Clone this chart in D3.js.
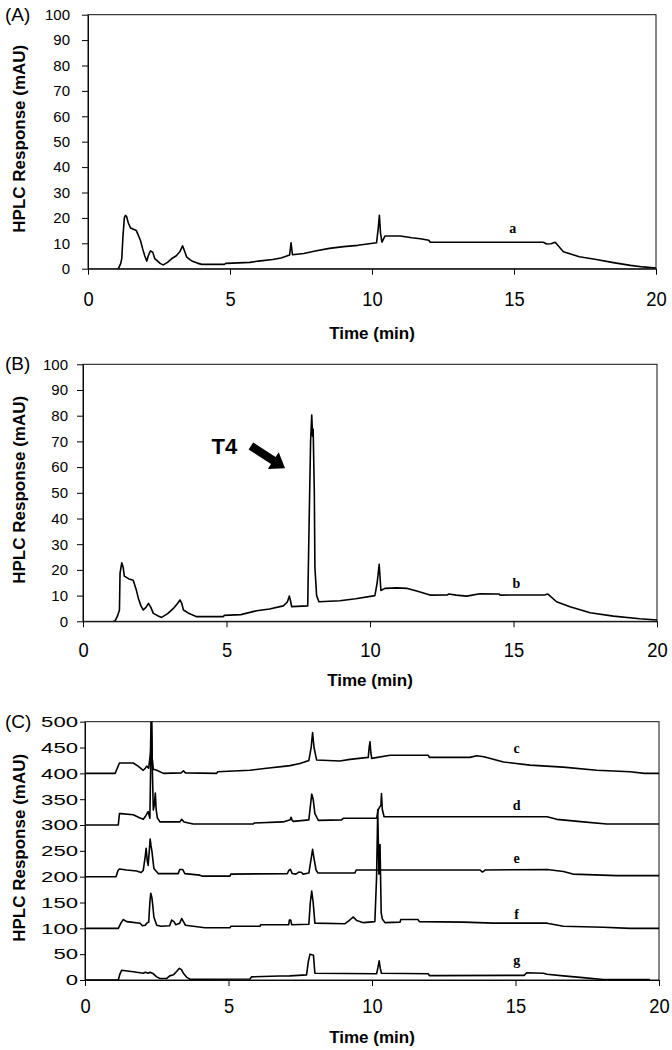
<!DOCTYPE html>
<html>
<head>
<meta charset="utf-8">
<script src="https://cdn.jsdelivr.net/npm/d3@7"></script>
<style>
  body { margin: 0; background: #fff; }
  svg { display: block; font-family: "Liberation Sans", Arial, sans-serif; }
</style>
</head>
<body>
<svg id="chart" width="672" height="1050"></svg>
<script>
// ---- data (time in min, response in mAU) ----
const xTicks = [0, 5, 10, 15, 20];
const yTicksAB = [0, 10, 20, 30, 40, 50, 60, 70, 80, 90, 100];
const yTicksC = [0, 50, 100, 150, 200, 250, 300, 350, 400, 450, 500];

const traceA = [[1.0,0],[1.07,0],[1.15,2],[1.19,4],[1.23,12.6],[1.28,20],[1.32,21],[1.36,20.5],[1.42,18],[1.5,16],
  [1.6,15.5],[1.7,15],[1.78,13],[1.85,11],[1.92,8],[2.0,5],[2.07,3],[2.12,5],[2.2,7],[2.28,6.5],[2.35,4],[2.45,3],
  [2.55,2],[2.65,1.5],[2.8,2.5],[2.95,4],[3.1,5],[3.24,6.8],[3.33,9],[3.4,7],[3.47,4.7],[3.6,3.5],[3.7,2.8],[3.85,2.2],
  [4.0,1.7],[4.8,1.7],[4.85,2.1],[5.3,2.3],[5.7,2.5],[6.0,3],[6.5,3.6],[6.8,4.2],[7.1,5.4],[7.15,10.2],[7.2,5.5],
  [7.6,6],[8.0,7],[8.5,8],[9.0,8.7],[9.5,9.2],[10.16,10.2],[10.22,16],[10.26,21],[10.3,14],[10.35,10.5],[10.46,12.9],
  [11.0,12.9],[11.4,12.2],[11.7,11.8],[12.0,11.2],[12.05,10.4],[16.03,10.4],[16.15,9.7],[16.3,9.8],[16.45,10.4],
  [16.74,6.7],[17.3,4.7],[17.9,3.6],[18.5,2.4],[19.1,1.3],[19.55,0.7],[20,0.3]];

const traceB = [[1.05,0],[1.11,0],[1.2,2],[1.27,4.4],[1.29,18.6],[1.35,22.8],[1.4,21],[1.44,17.6],[1.6,16.5],[1.75,16],
  [1.85,12.5],[1.93,8.9],[2.02,6],[2.1,4.4],[2.2,5.5],[2.28,7],[2.36,5.5],[2.45,3.1],[2.6,2.2],[2.74,1.5],[2.95,3],
  [3.15,5],[3.3,7],[3.38,8.3],[3.44,7],[3.5,4.4],[3.7,3],[3.96,1.8],[4.89,1.8],[4.92,2.3],[5.5,2.6],[6.05,4.1],
  [6.5,4.8],[6.98,6],[7.12,7.5],[7.19,9.8],[7.23,8],[7.27,5.7],[7.83,6],[7.87,33],[7.93,70],[7.97,80.3],[8.0,72],
  [8.02,74.7],[8.06,50],[8.08,21],[8.14,10],[8.22,7.6],[8.95,8],[9.5,8.8],[10.17,10],[10.25,15],[10.32,22.2],
  [10.38,12],[10.52,12.8],[10.93,13],[11.3,12.8],[11.63,11.8],[12.09,10.2],[12.7,10.3],[12.75,10.6],[13.0,10.2],
  [13.37,9.8],[13.83,10.7],[14.5,10.6],[14.53,10.2],[16.1,10.3],[16.2,10.6],[16.5,7.6],[16.97,5.7],[17.67,3.3],
  [18.48,2],[19.4,1],[20,0.5]];

// panel C, traces already carry their vertical offsets (400, 300, 200, 100, 0)
const traceC = [[0,400],[1.05,400],[1.2,420],[1.68,420],[1.85,414],[2.03,406],[2.1,410],[2.15,414],[2.22,410],
  [2.28,440],[2.31,520],[2.34,430],[2.38,408],[2.5,406],[2.73,400],[3.35,401],[3.43,405],[3.5,401],[4.59,400],
  [4.62,403],[5.75,406],[6.33,410],[7.0,414],[7.14,415],[7.49,419],[7.8,425],[7.88,450],[7.93,479],[7.98,450],
  [8.07,426],[8.88,424],[9.23,427],[9.87,431],[9.9,450],[9.93,461],[9.96,440],[9.99,429],[10.63,435],[11.96,435],
  [12.0,431],[13.41,431],[13.65,434],[13.9,432],[14.58,422],[15.5,416],[16.66,412],[17.83,406],[18.99,403],
  [19.5,400],[20,400]];

const traceD = [[0,300],[1.16,300],[1.2,322],[1.25,322],[1.68,320],[1.9,314],[2.03,311],[2.12,318],[2.2,326],
  [2.26,313],[2.29,420],[2.32,510],[2.35,400],[2.38,329],[2.42,340],[2.45,362],[2.48,330],[2.52,314],[2.61,306],
  [3.3,306],[3.37,311],[3.45,306],[3.77,302],[5.86,302],[5.9,304],[6.9,306],[7.15,310],[7.18,315],[7.22,309],
  [7.26,307],[7.8,310],[7.86,340],[7.9,360],[7.95,350],[8.01,322],[8.13,309],[8.94,310],[9.0,313],[10.16,313],
  [10.22,330],[10.28,336],[10.31,338],[10.33,361],[10.36,330],[10.42,316],[10.86,316],[16.1,316],[16.44,311],
  [17.36,306],[18.18,302],[20,302]];

const traceE = [[0,200],[1.08,200],[1.15,212],[1.2,215],[1.45,213],[1.8,211],[1.95,208],[2.03,212],[2.1,240],
  [2.13,255],[2.17,230],[2.2,222],[2.24,250],[2.27,273],[2.3,260],[2.33,250],[2.4,216],[2.55,206],[3.25,206],
  [3.3,214],[3.4,214],[3.48,206],[4.0,203],[4.1,201],[5.05,201],[5.08,205],[7.05,206],[7.1,212],[7.16,214],
  [7.22,206],[7.35,205],[7.45,209],[7.55,208],[7.6,205],[7.8,207],[7.88,235],[7.93,253],[7.98,235],[8.05,213],
  [8.12,207],[9.4,207],[9.45,213],[13.76,213],[13.85,209],[13.95,213],[16.1,214],[16.67,210],[17.0,205],
  [18.52,202],[20,202]];

const traceF = [[0,100],[1.16,100],[1.25,110],[1.33,117],[1.45,113],[1.6,112],[1.92,110],[2.0,105],[2.1,106],
  [2.15,110],[2.22,112],[2.26,150],[2.29,168],[2.33,160],[2.36,145],[2.4,122],[2.5,106],[2.65,104],[2.95,105],
  [3.02,116],[3.1,113],[3.16,107],[3.3,110],[3.37,119],[3.44,112],[3.5,106],[4.18,101],[5.05,101],[5.08,104],
  [6.1,104],[6.12,107],[7.1,107],[7.12,116],[7.17,116],[7.2,107],[7.8,108],[7.85,150],[7.9,172],[7.95,150],
  [8.01,110],[9.06,109],[9.2,115],[9.35,122],[9.47,115],[9.7,111],[10.1,113],[10.16,200],[10.2,330],[10.24,205],
  [10.28,262],[10.32,130],[10.36,118],[10.45,111],[10.98,112],[11.0,117],[11.6,117],[11.65,113],[13.18,112],
  [14.23,110],[16.1,110],[16.67,104],[18.06,102],[18.99,100],[20,100]];

const traceG = [[0,0],[1.16,0],[1.22,12],[1.28,19],[1.4,18],[1.68,16],[2.03,13],[2.1,15],[2.2,13],[2.27,15],
  [2.38,12],[2.5,6],[2.61,3],[2.85,3],[2.95,8],[3.08,10],[3.2,17],[3.29,22.6],[3.36,20],[3.43,13],[3.55,5],
  [3.66,1.5],[5.75,2],[5.8,6],[6.79,7.7],[7.14,8],[7.72,10],[7.78,35],[7.84,50],[7.96,48],[8.01,13],[10.16,12],
  [10.21,25],[10.25,37],[10.29,22],[10.33,13],[11.96,12],[12.0,8.5],[15.3,9],[15.39,14],[15.97,13],[16.1,11],
  [16.67,8],[17.25,5],[18.06,1],[19.69,1]];

const tracesC = [traceC, traceD, traceE, traceF, traceG];
const namesC = ["c", "d", "e", "f", "g"];
const nameYC = [438.7, 329, 226, 119, 29];   // label baselines, mAU

const svg = d3.select("#chart");
svg.append("rect").attr("width", 672).attr("height", 1050).attr("fill", "#fff");

function drawPanel(p) {
  const x = d3.scaleLinear().domain([0, 20]).range([p.left, p.right]);
  const y = d3.scaleLinear().domain([0, p.ymax]).range([p.bottom, p.top]);
  const g = svg.append("g");

  g.append("clipPath").attr("id", "clip" + p.id)
    .append("rect")
    .attr("x", p.left).attr("y", p.top)
    .attr("width", p.right - p.left).attr("height", p.bottom - p.top);

  // y axis
  const ya = g.append("g")
    .attr("transform", `translate(${p.left},0)`)
    .call(d3.axisLeft(y).tickValues(p.yTicks).tickSize(p.ytick).tickSizeOuter(0).tickPadding(p.ypad));
  ya.selectAll("text")
    .attr("font-size", 15)
    .attr("font-family", "'Liberation Sans', Arial, sans-serif")
    .attr("fill", "#000");
  if (p.ystretch) {
    ya.selectAll("text")
      .attr("textLength", d => String(d).length * p.ystretch)
      .attr("lengthAdjust", "spacingAndGlyphs");
  }

  // x axis
  const xa = g.append("g")
    .attr("transform", `translate(0,${p.bottom})`)
    .call(d3.axisBottom(x).tickValues(xTicks).tickSize(6).tickSizeOuter(0));
  xa.selectAll("text")
    .attr("y", p.xlab)
    .attr("dy", "0.36em")
    .attr("font-size", 20)
    .attr("font-family", "'Liberation Sans', Arial, sans-serif")
    .attr("fill", "#000")
    .attr("textLength", d => String(d).length * 10.2)
    .attr("lengthAdjust", "spacingAndGlyphs");
  g.selectAll(".domain, .tick line").attr("stroke", "#000");

  // frame
  g.append("rect")
    .attr("x", p.left).attr("y", p.top)
    .attr("width", p.right - p.left).attr("height", p.bottom - p.top)
    .attr("fill", "none").attr("stroke", "#111").attr("stroke-width", 1);

  // titles
  g.append("text")
    .attr("x", (p.left + p.right) / 2)
    .attr("y", p.bottom + p.xtitle)
    .attr("text-anchor", "middle")
    .attr("font-size", 17).attr("font-weight", "bold")
    .text("Time (min)");

  g.append("text")
    .attr("transform", `translate(25,${(p.top + p.bottom) / 2 - 3}) rotate(-90)`)
    .attr("text-anchor", "middle")
    .attr("font-size", 17).attr("font-weight", "bold")
    .text("HPLC Response (mAU)");

  g.append("text")
    .attr("x", 5).attr("y", p.top + 6)
    .attr("font-size", 19)
    .text(`(${p.id})`);

  return { x, y, g };
}

const line = (x, y) => d3.line().x(d => x(d[0])).y(d => y(d[1]));

function drawTrace(panel, id, data) {
  panel.g.append("path")
    .datum(data)
    .attr("clip-path", `url(#clip${id})`)
    .attr("fill", "none")
    .attr("stroke", "#000")
    .attr("stroke-width", 1.6)
    .attr("stroke-linejoin", "round")
    .attr("d", line(panel.x, panel.y));
}

function seriesLabel(panel, t, v, txt) {
  panel.g.append("text")
    .attr("x", panel.x(t)).attr("y", panel.y(v))
    .attr("text-anchor", "middle")
    .attr("font-family", "'Liberation Serif', 'Times New Roman', serif")
    .attr("font-weight", "bold")
    .attr("font-size", 14)
    .text(txt);
}

// (A)
const pA = drawPanel({ id: "A", left: 88, right: 656, top: 14.7, bottom: 268.7, ymax: 100,
  yTicks: yTicksAB, ytick: 6, ypad: 12, xlab: 30, xtitle: 70 });
drawTrace(pA, "A", traceA);
seriesLabel(pA, 14.96, 13.9, "a");

// (B)
const pB = drawPanel({ id: "B", left: 83, right: 657, top: 364.3, bottom: 621.3, ymax: 100,
  yTicks: yTicksAB, ytick: 6, ypad: 9, xlab: 29, xtitle: 65 });
drawTrace(pB, "B", traceB);
seriesLabel(pB, 15.1, 13.1, "b");

// T4 annotation with arrow
const arrowTail = [5.85, 68.2], arrowTip = [7.04, 59.6];
{
  const x0 = pB.x(arrowTail[0]), y0 = pB.y(arrowTail[1]);
  const x1 = pB.x(arrowTip[0]), y1 = pB.y(arrowTip[1]);
  const L = Math.hypot(x1 - x0, y1 - y0);
  const ang = Math.atan2(y1 - y0, x1 - x0) * 180 / Math.PI;
  const hl = 14, hw = 10, sw = 4.2;
  pB.g.append("path")
    .attr("transform", `translate(${x0},${y0}) rotate(${ang})`)
    .attr("d", `M0,${-sw}L${L - hl},${-sw}L${L - hl},${-hw}L${L},0L${L - hl},${hw}L${L - hl},${sw}L0,${sw}Z`)
    .attr("fill", "#000");
  pB.g.append("text")
    .attr("x", pB.x(4.48)).attr("y", pB.y(65))
    .attr("font-size", 22).attr("font-weight", "bold")
    .text("T4");
}

// (C)
const pC = drawPanel({ id: "C", left: 85, right: 659, top: 721.7, bottom: 980, ymax: 500,
  yTicks: yTicksC, ytick: 5, ypad: 2, ystretch: 12.3, xlab: 26, xtitle: 63 });
tracesC.forEach(tr => drawTrace(pC, "C", tr));
namesC.forEach((n, i) => seriesLabel(pC, 15.04, nameYC[i], n));
</script>
</body>
</html>
